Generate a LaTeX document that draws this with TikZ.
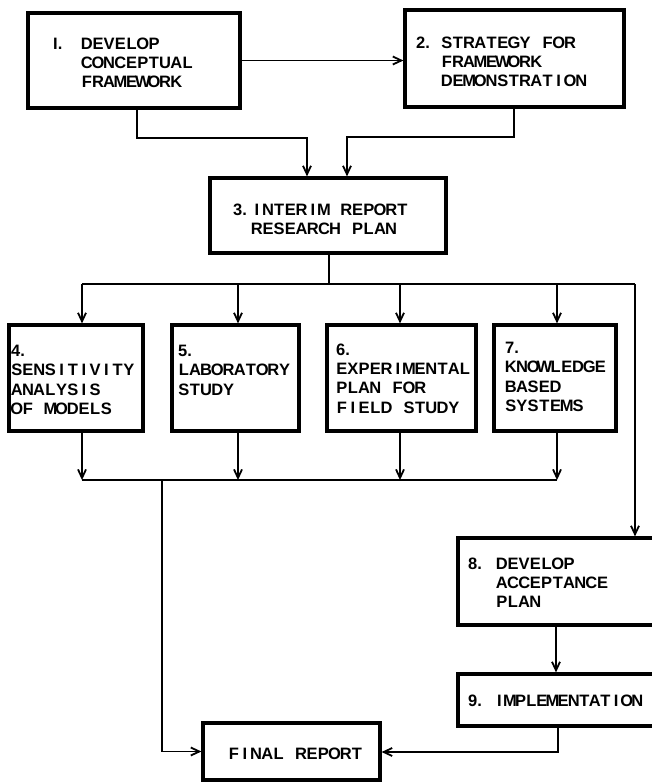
\documentclass[tikz,border=0pt]{standalone}
\usepackage{fontspec}
\setmainfont{Liberation Sans}
\usetikzlibrary{arrows.meta}

% stencil-style lettering: every character sits in a cell of equal width
\newlength\monocell
\setlength\monocell{11.2pt}
\ExplSyntaxOn
\cs_new_protected:Npn \mono #1
  { \str_map_inline:nn {#1} { \makebox[\monocell][c]{##1} } }
\ExplSyntaxOff

% multi-line label whose reference point is the first baseline
\newcommand\boxlines[1]{\begin{tabular}[t]{@{}l@{}}#1\end{tabular}}
\newcommand\hang[1]{\makebox[#1][l]}

\begin{document}
\begin{tikzpicture}[x=1pt,y=-1pt,
  every node/.style={font=\fontsize{16.5}{19.4}\selectfont\bfseries},
  box/.style={draw, line width=3.2pt, inner sep=0pt, rectangle},
  txt/.style={anchor=base west, inner sep=0pt},
  line/.style={line width=1.8pt},
  arr/.style={line width=1.8pt, -{Straight Barb[length=8.5pt,width=8pt]}}]
\useasboundingbox (0,0) rectangle (652,782);
\clip (0,0) rectangle (652,782);

% boxes
\node[box, minimum width=212, minimum height=95]  (b1) at (134,60.5) {};
\node[box, minimum width=219, minimum height=97]  (b2) at (514.5,58.5) {};
\node[box, minimum width=236, minimum height=75]  (b3) at (328,215.5) {};
\node[box, minimum width=134, minimum height=106] (b4) at (76,378) {};
\node[box, minimum width=127, minimum height=106] (b5) at (235.5,378) {};
\node[box, minimum width=149, minimum height=106] (b6) at (401.5,378) {};
\node[box, minimum width=122, minimum height=106] (b7) at (555,378) {};
\node[box, minimum width=242, minimum height=87]  (b8) at (579,581.5) {};
\node[box, minimum width=242, minimum height=52]  (b9) at (579,700) {};
\node[box, minimum width=177, minimum height=57]  (bf) at (291.5,751.5) {};

% labels
\node[txt] (l1) at (53,49)  {\boxlines{\hang{28pt}{I.}\mono{DEVELOP}\\\hspace{28pt}\mono{CONCEPTUAL}\\\hspace{28pt}\mono{FRAMEWORK}}};
\node[txt] (l2) at (416,48) {\boxlines{\hang{25pt}{2.}\mono{STRATEGY FOR}\\\hspace{25pt}\mono{FRAMEWORK}\\\hspace{25pt}\mono{DEMONSTRATION}}};
\node[txt] (l3) at (233,215) {\boxlines{\hang{18pt}{3.}\mono{INTERIM REPORT}\\\hspace{18pt}\mono{RESEARCH PLAN}}};
\node[txt] (l4) at (11,356.5) {\boxlines{4.\\\mono{SENSITIVITY}\\\mono{ANALYSIS}\\\mono{OF MODELS}}};
\node[txt] (l5) at (178,356.5) {\boxlines{5.\\\mono{LABORATORY}\\\mono{STUDY}}};
\node[txt] (l6) at (336,355) {\boxlines{6.\\\mono{EXPERIMENTAL}\\\mono{PLAN FOR}\\\mono{FIELD STUDY}}};
\node[txt] (l7) at (505,353.5) {\boxlines{7.\\\mono{KNOWLEDGE}\\\mono{BASED}\\\mono{SYSTEMS}}};
\node[txt] (l8) at (468,569) {\boxlines{\hang{28pt}{8.}\mono{DEVELOP}\\\hspace{28pt}\mono{ACCEPTANCE}\\\hspace{28pt}\mono{PLAN}}};
\node[txt] (l9) at (468,706) {\setlength\monocell{10.6pt}\hang{26pt}{9.}\mono{IMPLEMENTATION}};
\node[txt] (lf) at (228,759) {\mono{FINAL REPORT}};

% bend points
\coordinate (k1) at (137,138);
\coordinate (k2) at (307,138);
\coordinate (k3) at (514,137);
\coordinate (k4) at (347,137);
\coordinate (s1) at (329,284);
\coordinate (s0) at (82,284);
\coordinate (sa) at (238,284);
\coordinate (sb) at (400,284);
\coordinate (sc) at (557,284);
\coordinate (sR) at (635,284);
\coordinate (t0) at (82,480);
\coordinate (ta) at (238,480);
\coordinate (tb) at (400,480);
\coordinate (tc) at (557,480);
\coordinate (t2) at (162,480);
\coordinate (u)  at (556,650);
\coordinate (v)  at (558,752);

% connectors
\draw[arr] (b1.east) -- (b1.east -| b2.west);
\draw[arr] (b1.south -| k1) -- (k1) -- (k2) -- (k2 |- b3.north);
\draw[arr] (b2.south -| k3) -- (k3) -- (k4) -- (k4 |- b3.north);

\draw[line] (b3.south -| s1) -- (s1);
\draw[line] (s0) -- (sR);
\draw[arr] (s0) -- (s0 |- b4.north);
\draw[arr] (sa) -- (sa |- b5.north);
\draw[arr] (sb) -- (sb |- b6.north);
\draw[arr] (sc) -- (sc |- b7.north);
\draw[arr] (sR) -- (sR |- b8.north);

\draw[arr] (b4.south -| t0) -- (t0);
\draw[arr] (b5.south -| ta) -- (ta);
\draw[arr] (b6.south -| tb) -- (tb);
\draw[arr] (b7.south -| tc) -- (tc);
\draw[line] (t0) -- (tc);
\draw[arr] (t2) |- (bf.west);

\draw[arr] (b8.south -| u) -- (u |- b9.north);
\draw[arr] (b9.south -| v) -- (v) -- (v -| bf.east);
\end{tikzpicture}
\end{document}
